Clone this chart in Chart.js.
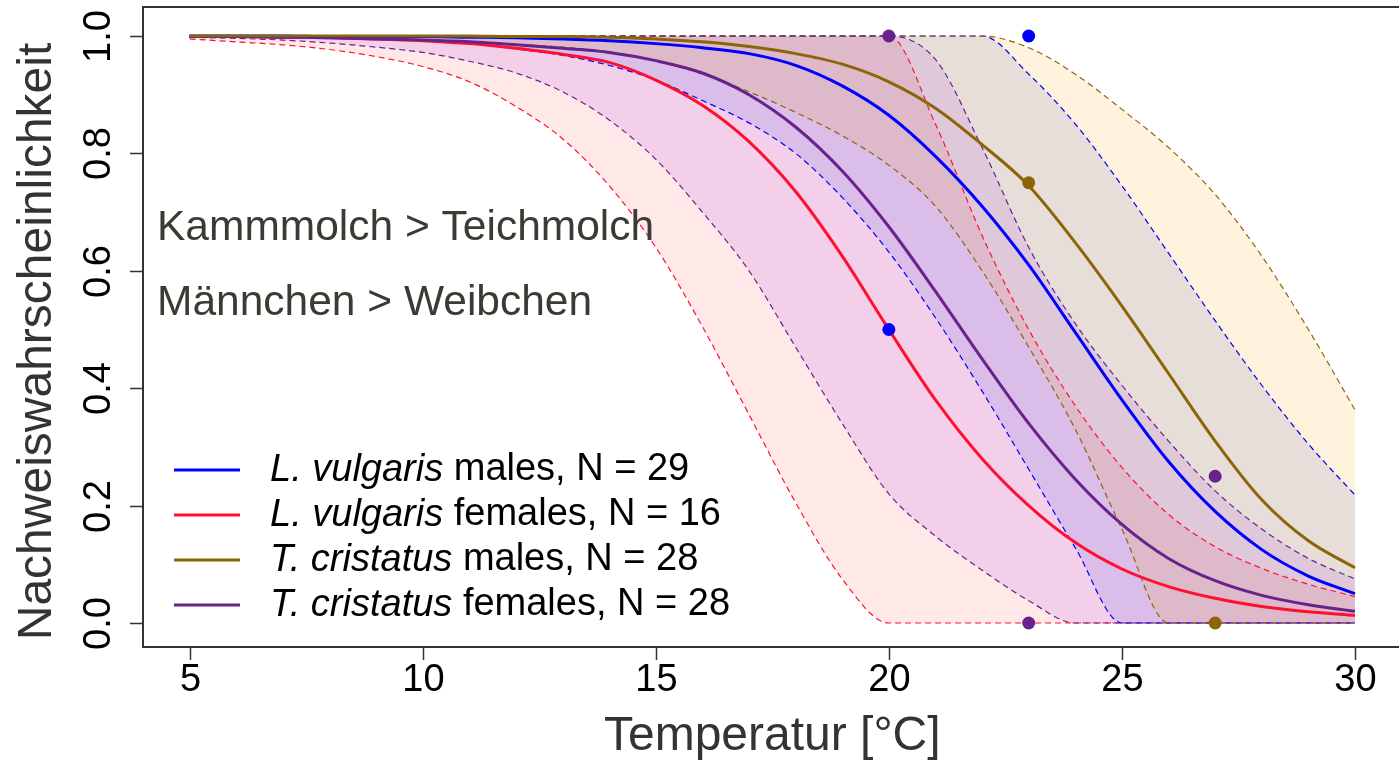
<!DOCTYPE html>
<html>
<head>
<meta charset="utf-8">
<script src="https://cdn.jsdelivr.net/npm/chart.js@4.4.0/dist/chart.umd.min.js"></script>
<style>
  html, body { margin: 0; padding: 0; background: #fff; }
  canvas { display: block; }
</style>
</head>
<body>
<canvas id="chart" width="1399" height="761"></canvas>
<script>
// temperature grid of the model predictions
const temps = [5, 6, 7, 8, 9, 10, 11, 12, 13, 14, 15, 16, 17, 18, 19, 20, 21, 22, 23, 24, 25, 26, 27, 28, 29, 30];

// L. vulgaris males (blue)
const blueMean = [1.0, 1.0, 1.0, 0.999, 0.999, 0.999, 0.998, 0.997, 0.995, 0.992, 0.987, 0.98, 0.97, 0.95, 0.915, 0.865, 0.795, 0.71, 0.61, 0.495, 0.38, 0.275, 0.19, 0.125, 0.08, 0.05];
const blueLow  = [0.999, 0.999, 0.998, 0.997, 0.995, 0.992, 0.987, 0.978, 0.967, 0.95, 0.925, 0.89, 0.852, 0.8, 0.725, 0.632, 0.52, 0.395, 0.262, 0.128, 0, 0, 0, 0, 0, 0];
const blueHigh = [1, 1, 1, 1, 1, 1, 1, 1, 1, 1, 1, 1, 1, 1, 1, 1, 1, 1, 0.935, 0.85, 0.745, 0.63, 0.515, 0.405, 0.305, 0.218];

// L. vulgaris females (red)
const redMean = [0.999, 0.999, 0.998, 0.997, 0.995, 0.992, 0.987, 0.979, 0.969, 0.955, 0.925, 0.882, 0.82, 0.735, 0.625, 0.5, 0.38, 0.28, 0.2, 0.137, 0.092, 0.062, 0.042, 0.028, 0.019, 0.013];
const redLow  = [0.995, 0.99, 0.985, 0.977, 0.965, 0.948, 0.922, 0.88, 0.825, 0.745, 0.64, 0.505, 0.355, 0.205, 0.075, 0, 0, 0, 0, 0, 0, 0, 0, 0, 0, 0];
const redHigh = [1, 1, 1, 1, 1, 1, 1, 1, 1, 1, 1, 1, 1, 1, 1, 1, 0.85, 0.66, 0.5, 0.37, 0.265, 0.185, 0.13, 0.093, 0.066, 0.045];

// T. cristatus males (brown)
const brownMean = [1.0, 1.0, 1.0, 1.0, 1.0, 1.0, 1.0, 0.999, 0.999, 0.998, 0.995, 0.99, 0.982, 0.97, 0.952, 0.922, 0.877, 0.815, 0.745, 0.648, 0.54, 0.425, 0.31, 0.21, 0.14, 0.094];
const brownLow  = [1.0, 0.999, 0.998, 0.997, 0.996, 0.994, 0.99, 0.986, 0.981, 0.973, 0.958, 0.935, 0.905, 0.87, 0.83, 0.78, 0.71, 0.60, 0.47, 0.33, 0.16, 0, 0, 0, 0, 0];
const brownHigh = [1, 1, 1, 1, 1, 1, 1, 1, 1, 1, 1, 1, 1, 1, 1, 1, 1, 1, 0.98, 0.935, 0.875, 0.81, 0.73, 0.625, 0.5, 0.363];

// T. cristatus females (purple)
const purpleMean = [0.999, 0.999, 0.998, 0.997, 0.995, 0.993, 0.99, 0.985, 0.979, 0.972, 0.958, 0.937, 0.9, 0.845, 0.77, 0.675, 0.565, 0.45, 0.34, 0.245, 0.168, 0.11, 0.072, 0.047, 0.031, 0.02];
const purpleLow  = [0.998, 0.996, 0.993, 0.988, 0.981, 0.972, 0.957, 0.937, 0.905, 0.857, 0.79, 0.7, 0.6, 0.47, 0.34, 0.22, 0.148, 0.09, 0.038, 0, 0, 0, 0, 0, 0, 0];
const purpleHigh = [1, 1, 1, 1, 1, 1, 1, 1, 1, 1, 1, 1, 1, 1, 1, 1, 0.96, 0.81, 0.64, 0.51, 0.405, 0.31, 0.225, 0.16, 0.11, 0.075];

// observed detection rates
const blueObsT = [20, 23];     const blueObsP = [0.5, 1.0];
const brownObsT = [23, 27];    const brownObsP = [0.75, 0.0];
const purpleObsT = [20, 27, 23]; const purpleObsP = [1.0, 0.25, 0.0];

const xTicks = [5, 10, 15, 20, 25, 30];
const yTicks = [0, 0.2, 0.4, 0.6, 0.8, 1.0];
const yTickLabels = ['0.0', '0.2', '0.4', '0.6', '0.8', '1.0'];
const xTitle = 'Temperatur [°C]';
const yTitle = 'Nachweiswahrscheinlichkeit';
const notes = ['Kammmolch > Teichmolch', 'Männchen > Weibchen'];
const legendKeys = ['blue', 'red', 'brown', 'purple'];
const legendSpecies = ['L. vulgaris', 'L. vulgaris', 'T. cristatus', 'T. cristatus'];
const legendRest = [' males, N = 29', ' females, N = 16', ' males, N = 28', ' females, N = 28'];

const FONT = '"Liberation Sans", Arial, sans-serif';

const series = {
  brown:  {color: '#8b6508', band: 'rgba(255,165,0,0.13)',  mean: brownMean,  lo: brownLow,  hi: brownHigh,  obsT: brownObsT,  obsP: brownObsP},
  blue:   {color: '#0000ff', band: 'rgba(30,60,220,0.12)',  mean: blueMean,   lo: blueLow,   hi: blueHigh,   obsT: blueObsT,   obsP: blueObsP},
  purple: {color: '#68228b', band: 'rgba(160,32,240,0.125)', mean: purpleMean, lo: purpleLow, hi: purpleHigh, obsT: purpleObsT, obsP: purpleObsP},
  red:    {color: '#ff1030', band: 'rgba(255,0,0,0.09)',    mean: redMean,    lo: redLow,    hi: redHigh,    obsT: [],         obsP: []}
};

function pts(xs, ys) { return xs.map((t, i) => ({x: t, y: ys[i]})); }

const datasets = [];
// confidence bands, first one ends up on top
['brown', 'blue', 'purple', 'red'].forEach(k => {
  const s = series[k];
  datasets.push({data: pts(temps, s.lo), borderColor: s.color, borderWidth: 1.2, borderDash: [6, 4],
    pointRadius: 0, fill: false, order: 2});
  datasets.push({data: pts(temps, s.hi), borderColor: s.color, borderWidth: 1.2, borderDash: [6, 4],
    pointRadius: 0, fill: '-1', backgroundColor: s.band, order: 2});
});
// fitted curves
['brown', 'blue', 'purple', 'red'].forEach(k => {
  const s = series[k];
  datasets.push({data: pts(temps, s.mean), borderColor: s.color, borderWidth: 3, pointRadius: 0, fill: false, order: 1});
});
// observations
['blue', 'brown', 'purple'].forEach(k => {
  const s = series[k];
  datasets.push({data: pts(s.obsT, s.obsP), showLine: false, pointRadius: 6.5, pointBorderWidth: 0,
    pointBackgroundColor: s.color, pointBorderColor: s.color, fill: false, order: 0});
});

const rAxes = {
  id: 'rAxes',
  afterDraw(chart) {
    const {ctx, chartArea: a, scales: {x, y}} = chart;
    ctx.save();
    ctx.strokeStyle = '#333';
    ctx.lineWidth = 2;
    ctx.beginPath();
    ctx.moveTo(a.right + 5, a.top);
    ctx.lineTo(a.left, a.top);
    ctx.lineTo(a.left, a.bottom);
    ctx.lineTo(a.right + 5, a.bottom);
    ctx.stroke();

    ctx.fillStyle = '#000';
    ctx.font = '38px ' + FONT;
    ctx.textAlign = 'center';
    ctx.textBaseline = 'middle';
    ctx.lineWidth = 1.5;
    xTicks.forEach(v => {
      const px = Math.round(x.getPixelForValue(v)) + 0.5;
      ctx.beginPath(); ctx.moveTo(px, a.bottom); ctx.lineTo(px, a.bottom + 13); ctx.stroke();
      ctx.fillText(String(v), px, a.bottom + 34);
    });
    yTicks.forEach((v, i) => {
      const py = Math.round(y.getPixelForValue(v)) + 0.5;
      ctx.beginPath(); ctx.moveTo(a.left, py); ctx.lineTo(a.left - 13, py); ctx.stroke();
      ctx.save();
      ctx.translate(a.left - 43, py);
      ctx.rotate(-Math.PI / 2);
      ctx.fillText(yTickLabels[i], 0, 0);
      ctx.restore();
    });

    ctx.fillStyle = '#333';
    ctx.font = '48px ' + FONT;
    ctx.fillText(xTitle, x.getPixelForValue(17.5), 737);
    ctx.save();
    ctx.translate(38, y.getPixelForValue(0.5) + 12);
    ctx.rotate(-Math.PI / 2);
    ctx.fillText(yTitle, 0, 0);
    ctx.restore();

    ctx.fillStyle = '#3b3b33';
    ctx.font = '42.5px ' + FONT;
    ctx.textAlign = 'left';
    notes.forEach((t, i) => ctx.fillText(t, 157, 228 + i * 75));

    legendKeys.forEach((k, i) => {
      const ly = 470 + i * 45;
      ctx.strokeStyle = series[k].color;
      ctx.lineWidth = 3;
      ctx.beginPath(); ctx.moveTo(174, ly); ctx.lineTo(240, ly); ctx.stroke();
      ctx.fillStyle = '#000';
      ctx.font = 'italic 38px ' + FONT;
      ctx.fillText(legendSpecies[i], 270, ly);
      const w = ctx.measureText(legendSpecies[i]).width;
      ctx.font = '38px ' + FONT;
      ctx.fillText(legendRest[i], 270 + w, ly);
    });
    ctx.restore();
  }
};

new Chart(document.getElementById('chart'), {
  type: 'line',
  data: {datasets: datasets},
  options: {
    responsive: false,
    animation: false,
    devicePixelRatio: 1,
    layout: {autoPadding: false, padding: {left: 143, top: 7, right: 0, bottom: 114}},
    elements: {line: {tension: 0.4, cubicInterpolationMode: 'monotone'}},
    scales: {
      x: {type: 'linear', min: 4, max: 30.944, display: false},
      y: {type: 'linear', min: -0.0409, max: 1.0494, display: false}
    },
    plugins: {
      legend: {display: false},
      tooltip: {enabled: false},
      filler: {drawTime: 'beforeDatasetsDraw'}
    }
  },
  plugins: [rAxes]
});
</script>
</body>
</html>
